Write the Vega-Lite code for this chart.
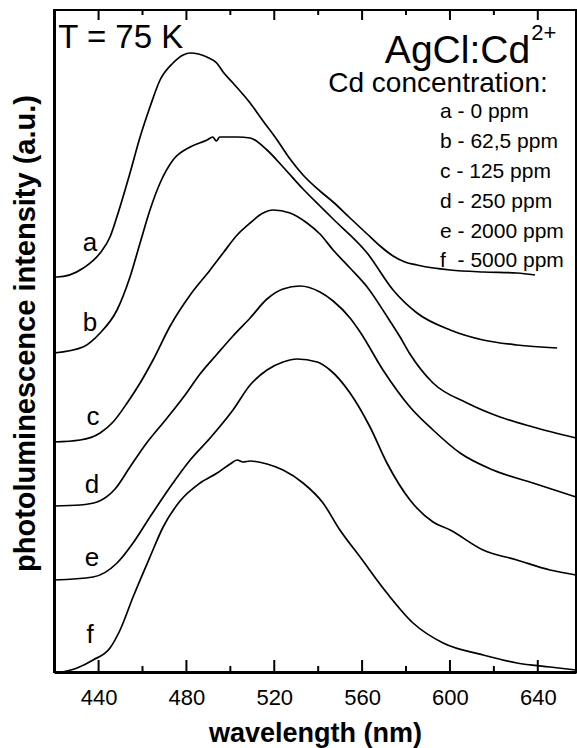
{
  "$schema": "https://vega.github.io/schema/vega-lite/v6.json",
  "width": 522,
  "height": 662,
  "autosize": {"type": "none"},
  "padding": {"left": 54, "top": 10, "right": 1, "bottom": 76},
  "background": "white",
  "config": {
    "font": "Liberation Sans",
    "view": {"stroke": "black", "strokeWidth": 2}
  },
  "datasets": {
    "curves": [
      {"s": "a", "wl": 419.7, "I": 395}, {"s": "a", "wl": 421.0, "I": 395}, {"s": "a", "wl": 433.1, "I": 404}, {"s": "a", "wl": 440.7, "I": 419}, {"s": "a", "wl": 445.2, "I": 435}, {"s": "a", "wl": 448.3, "I": 455}, {"s": "a", "wl": 454.3, "I": 499}, {"s": "a", "wl": 458.9, "I": 535}, {"s": "a", "wl": 463.4, "I": 565}, {"s": "a", "wl": 468.0, "I": 592}, {"s": "a", "wl": 473.9, "I": 609}, {"s": "a", "wl": 478.5, "I": 617}, {"s": "a", "wl": 481.7, "I": 619}, {"s": "a", "wl": 485.5, "I": 618}, {"s": "a", "wl": 489.3, "I": 615}, {"s": "a", "wl": 493.8, "I": 609}, {"s": "a", "wl": 496.7, "I": 600}, {"s": "a", "wl": 501.2, "I": 589}, {"s": "a", "wl": 509.0, "I": 569}, {"s": "a", "wl": 514.9, "I": 551}, {"s": "a", "wl": 521.3, "I": 532}, {"s": "a", "wl": 527.2, "I": 513}, {"s": "a", "wl": 533.1, "I": 497}, {"s": "a", "wl": 540.8, "I": 481}, {"s": "a", "wl": 546.8, "I": 470}, {"s": "a", "wl": 554.5, "I": 454}, {"s": "a", "wl": 562.3, "I": 438}, {"s": "a", "wl": 568.2, "I": 426}, {"s": "a", "wl": 574.1, "I": 416}, {"s": "a", "wl": 579.5, "I": 410}, {"s": "a", "wl": 585.0, "I": 407}, {"s": "a", "wl": 600.1, "I": 402}, {"s": "a", "wl": 615.1, "I": 400}, {"s": "a", "wl": 630.5, "I": 399}, {"s": "a", "wl": 638.7, "I": 397},
      {"s": "b", "wl": 419.7, "I": 319}, {"s": "b", "wl": 432.9, "I": 325}, {"s": "b", "wl": 440.7, "I": 339}, {"s": "b", "wl": 448.4, "I": 362}, {"s": "b", "wl": 454.3, "I": 395}, {"s": "b", "wl": 458.9, "I": 429}, {"s": "b", "wl": 463.4, "I": 462}, {"s": "b", "wl": 468.0, "I": 489}, {"s": "b", "wl": 473.9, "I": 512}, {"s": "b", "wl": 481.7, "I": 525}, {"s": "b", "wl": 489.4, "I": 532}, {"s": "b", "wl": 492.0, "I": 535}, {"s": "b", "wl": 493.6, "I": 531}, {"s": "b", "wl": 495.2, "I": 535}, {"s": "b", "wl": 503.1, "I": 535}, {"s": "b", "wl": 509.0, "I": 534}, {"s": "b", "wl": 516.7, "I": 522}, {"s": "b", "wl": 524.0, "I": 505}, {"s": "b", "wl": 533.1, "I": 483}, {"s": "b", "wl": 540.8, "I": 466}, {"s": "b", "wl": 546.8, "I": 453}, {"s": "b", "wl": 562.3, "I": 419}, {"s": "b", "wl": 574.1, "I": 382}, {"s": "b", "wl": 585.0, "I": 359}, {"s": "b", "wl": 600.1, "I": 342}, {"s": "b", "wl": 615.1, "I": 332}, {"s": "b", "wl": 630.5, "I": 327}, {"s": "b", "wl": 648.8, "I": 324},
      {"s": "c", "wl": 419.7, "I": 230}, {"s": "c", "wl": 431.6, "I": 232}, {"s": "c", "wl": 440.7, "I": 239}, {"s": "c", "wl": 446.6, "I": 250}, {"s": "c", "wl": 453.0, "I": 269}, {"s": "c", "wl": 458.9, "I": 289}, {"s": "c", "wl": 464.8, "I": 312}, {"s": "c", "wl": 472.6, "I": 346}, {"s": "c", "wl": 481.7, "I": 377}, {"s": "c", "wl": 490.8, "I": 402}, {"s": "c", "wl": 496.7, "I": 419}, {"s": "c", "wl": 503.1, "I": 437}, {"s": "c", "wl": 509.0, "I": 449}, {"s": "c", "wl": 514.9, "I": 459}, {"s": "c", "wl": 519.4, "I": 462}, {"s": "c", "wl": 527.2, "I": 459}, {"s": "c", "wl": 534.9, "I": 449}, {"s": "c", "wl": 540.8, "I": 438}, {"s": "c", "wl": 546.8, "I": 422}, {"s": "c", "wl": 554.5, "I": 404}, {"s": "c", "wl": 562.3, "I": 385}, {"s": "c", "wl": 571.8, "I": 354}, {"s": "c", "wl": 577.3, "I": 335}, {"s": "c", "wl": 581.8, "I": 318}, {"s": "c", "wl": 592.3, "I": 289}, {"s": "c", "wl": 607.8, "I": 269}, {"s": "c", "wl": 622.8, "I": 255}, {"s": "c", "wl": 637.8, "I": 245}, {"s": "c", "wl": 657.4, "I": 234},
      {"s": "d", "wl": 419.7, "I": 166}, {"s": "d", "wl": 431.6, "I": 167}, {"s": "d", "wl": 439.3, "I": 170}, {"s": "d", "wl": 447.5, "I": 183}, {"s": "d", "wl": 454.3, "I": 205}, {"s": "d", "wl": 461.2, "I": 227}, {"s": "d", "wl": 471.2, "I": 254}, {"s": "d", "wl": 479.4, "I": 277}, {"s": "d", "wl": 486.2, "I": 298}, {"s": "d", "wl": 494.0, "I": 318}, {"s": "d", "wl": 501.2, "I": 336}, {"s": "d", "wl": 509.0, "I": 354}, {"s": "d", "wl": 516.7, "I": 373}, {"s": "d", "wl": 524.0, "I": 383}, {"s": "d", "wl": 531.7, "I": 386}, {"s": "d", "wl": 540.8, "I": 380}, {"s": "d", "wl": 546.8, "I": 371}, {"s": "d", "wl": 554.5, "I": 354}, {"s": "d", "wl": 559.1, "I": 340}, {"s": "d", "wl": 569.5, "I": 302}, {"s": "d", "wl": 581.8, "I": 265}, {"s": "d", "wl": 592.3, "I": 242}, {"s": "d", "wl": 604.6, "I": 219}, {"s": "d", "wl": 619.6, "I": 202}, {"s": "d", "wl": 637.8, "I": 189}, {"s": "d", "wl": 657.4, "I": 175},
      {"s": "e", "wl": 419.7, "I": 92}, {"s": "e", "wl": 437.5, "I": 95}, {"s": "e", "wl": 448.4, "I": 109}, {"s": "e", "wl": 455.7, "I": 129}, {"s": "e", "wl": 463.4, "I": 155}, {"s": "e", "wl": 472.6, "I": 185}, {"s": "e", "wl": 481.7, "I": 212}, {"s": "e", "wl": 490.8, "I": 234}, {"s": "e", "wl": 501.2, "I": 262}, {"s": "e", "wl": 509.0, "I": 287}, {"s": "e", "wl": 516.7, "I": 302}, {"s": "e", "wl": 524.0, "I": 310}, {"s": "e", "wl": 530.4, "I": 313}, {"s": "e", "wl": 539.5, "I": 310}, {"s": "e", "wl": 545.4, "I": 302}, {"s": "e", "wl": 554.5, "I": 279}, {"s": "e", "wl": 563.6, "I": 245}, {"s": "e", "wl": 571.3, "I": 209}, {"s": "e", "wl": 581.8, "I": 172}, {"s": "e", "wl": 592.3, "I": 150}, {"s": "e", "wl": 600.1, "I": 142}, {"s": "e", "wl": 615.1, "I": 122}, {"s": "e", "wl": 630.5, "I": 112}, {"s": "e", "wl": 645.6, "I": 102}, {"s": "e", "wl": 657.4, "I": 97},
      {"s": "f", "wl": 423.4, "I": 0}, {"s": "f", "wl": 430.2, "I": 4}, {"s": "f", "wl": 437.5, "I": 12}, {"s": "f", "wl": 445.2, "I": 24}, {"s": "f", "wl": 449.8, "I": 42}, {"s": "f", "wl": 455.7, "I": 75}, {"s": "f", "wl": 463.4, "I": 115}, {"s": "f", "wl": 469.4, "I": 145}, {"s": "f", "wl": 477.1, "I": 171}, {"s": "f", "wl": 486.2, "I": 189}, {"s": "f", "wl": 494.0, "I": 199}, {"s": "f", "wl": 499.9, "I": 208}, {"s": "f", "wl": 503.1, "I": 212}, {"s": "f", "wl": 505.8, "I": 210}, {"s": "f", "wl": 509.0, "I": 211}, {"s": "f", "wl": 516.7, "I": 208}, {"s": "f", "wl": 524.0, "I": 202}, {"s": "f", "wl": 533.1, "I": 189}, {"s": "f", "wl": 542.2, "I": 169}, {"s": "f", "wl": 549.9, "I": 142}, {"s": "f", "wl": 559.1, "I": 115}, {"s": "f", "wl": 571.3, "I": 79}, {"s": "f", "wl": 583.2, "I": 49}, {"s": "f", "wl": 596.9, "I": 29}, {"s": "f", "wl": 615.1, "I": 17}, {"s": "f", "wl": 630.5, "I": 9}, {"s": "f", "wl": 645.6, "I": 5}, {"s": "f", "wl": 657.4, "I": 2}
    ],
    "majorTicks": [{"wl": 440}, {"wl": 480}, {"wl": 520}, {"wl": 560}, {"wl": 600}, {"wl": 640}],
    "minorTicks": [{"wl": 460}, {"wl": 500}, {"wl": 540}, {"wl": 580}, {"wl": 620}],
    "letters": [
      {"t": "a", "wl": 436.1, "I": 429}, {"t": "b", "wl": 436.1, "I": 349}, {"t": "c", "wl": 437.5, "I": 255},
      {"t": "d", "wl": 437.0, "I": 187}, {"t": "e", "wl": 437.0, "I": 114}, {"t": "f", "wl": 436.1, "I": 37}
    ],
    "legend": [
      {"t": "a - 0 ppm", "wl": 595.5, "I": 554}, {"t": "b - 62,5 ppm", "wl": 595.5, "I": 524},
      {"t": "c - 125 ppm", "wl": 595.5, "I": 494}, {"t": "d - 250 ppm", "wl": 595.5, "I": 464},
      {"t": "e - 2000 ppm", "wl": 595.5, "I": 434}, {"t": "f\u00a0\u00a0- 5000 ppm", "wl": 595.5, "I": 405}
    ],
    "temp": [{"t": "T = 75 K", "wl": 421.6, "I": 624}],
    "compound": [{"t": "AgCl:Cd", "wl": 636.5, "I": 609}],
    "charge": [{"t": "2+", "wl": 637.0, "I": 632}],
    "conc": [{"t": "Cd concentration:", "wl": 544.6, "I": 580}]
  },
  "resolve": {"axis": {"x": "independent"}},
  "layer": [
    {
      "data": {"name": "curves"},
      "mark": {"type": "line", "color": "black", "strokeWidth": 1.7, "interpolate": "monotone"},
      "encoding": {
        "x": {
          "field": "wl", "type": "quantitative",
          "scale": {"domain": [419.7, 657.4], "nice": false, "zero": false},
          "axis": {
            "orient": "bottom",
            "values": [440, 480, 520, 560, 600, 640],
            "ticks": false,
            "labelPadding": 15,
            "labelFont": "Liberation Sans", "labelFontSize": 22, "labelColor": "black",
            "labelFlush": false,
            "domainColor": "black", "domainWidth": 3,
            "grid": false,
            "title": "wavelength (nm)",
            "titleFont": "Liberation Sans", "titleFontSize": 27, "titleFontWeight": "bold", "titleColor": "black",
            "titlePadding": 12
          }
        },
        "y": {
          "field": "I", "type": "quantitative",
          "scale": {"domain": [0, 662], "nice": false},
          "axis": {
            "labels": false, "ticks": false, "grid": false,
            "domainColor": "black", "domainWidth": 3,
            "title": "photoluminescence intensity (a.u.)",
            "titleFont": "Liberation Sans", "titleFontSize": 29, "titleFontWeight": "bold", "titleColor": "black",
            "titlePadding": 14, "titleY": 323
          }
        },
        "detail": {"field": "s"}
      }
    },
    {
      "data": {"name": "majorTicks"},
      "mark": {"type": "rule", "color": "black", "strokeWidth": 2},
      "encoding": {
        "x": {"field": "wl", "type": "quantitative", "axis": null},
        "y": {"datum": 0, "type": "quantitative"},
        "y2": {"datum": 12}
      }
    },
    {
      "data": {"name": "minorTicks"},
      "mark": {"type": "rule", "color": "black", "strokeWidth": 2},
      "encoding": {
        "x": {"field": "wl", "type": "quantitative", "axis": null},
        "y": {"datum": 0, "type": "quantitative"},
        "y2": {"datum": 6}
      }
    },
    {
      "data": {"name": "majorTicks"},
      "mark": {"type": "rule", "color": "black", "strokeWidth": 2},
      "encoding": {
        "x": {"field": "wl", "type": "quantitative", "axis": null},
        "y": {"datum": 662, "type": "quantitative"},
        "y2": {"datum": 652}
      }
    },
    {
      "data": {"name": "minorTicks"},
      "mark": {"type": "rule", "color": "black", "strokeWidth": 2},
      "encoding": {
        "x": {"field": "wl", "type": "quantitative", "axis": null},
        "y": {"datum": 662, "type": "quantitative"},
        "y2": {"datum": 657}
      }
    },
    {
      "data": {"name": "letters"},
      "mark": {"type": "text", "font": "Liberation Sans", "fontSize": 26, "align": "center", "baseline": "middle", "color": "black"},
      "encoding": {
        "x": {"field": "wl", "type": "quantitative", "axis": null},
        "y": {"field": "I", "type": "quantitative"},
        "text": {"field": "t"}
      }
    },
    {
      "data": {"name": "legend"},
      "mark": {"type": "text", "font": "Liberation Sans", "fontSize": 21, "align": "left", "baseline": "alphabetic", "color": "black"},
      "encoding": {
        "x": {"field": "wl", "type": "quantitative", "axis": null},
        "y": {"field": "I", "type": "quantitative"},
        "text": {"field": "t"}
      }
    },
    {
      "data": {"name": "temp"},
      "mark": {"type": "text", "font": "Liberation Sans", "fontSize": 33, "align": "left", "baseline": "alphabetic", "color": "black"},
      "encoding": {
        "x": {"field": "wl", "type": "quantitative", "axis": null},
        "y": {"field": "I", "type": "quantitative"},
        "text": {"field": "t"}
      }
    },
    {
      "data": {"name": "compound"},
      "mark": {"type": "text", "font": "Liberation Sans", "fontSize": 39, "align": "right", "baseline": "alphabetic", "color": "black"},
      "encoding": {
        "x": {"field": "wl", "type": "quantitative", "axis": null},
        "y": {"field": "I", "type": "quantitative"},
        "text": {"field": "t"}
      }
    },
    {
      "data": {"name": "charge"},
      "mark": {"type": "text", "font": "Liberation Sans", "fontSize": 22, "align": "left", "baseline": "alphabetic", "color": "black"},
      "encoding": {
        "x": {"field": "wl", "type": "quantitative", "axis": null},
        "y": {"field": "I", "type": "quantitative"},
        "text": {"field": "t"}
      }
    },
    {
      "data": {"name": "conc"},
      "mark": {"type": "text", "font": "Liberation Sans", "fontSize": 28, "align": "left", "baseline": "alphabetic", "color": "black"},
      "encoding": {
        "x": {"field": "wl", "type": "quantitative", "axis": null},
        "y": {"field": "I", "type": "quantitative"},
        "text": {"field": "t"}
      }
    }
  ]
}
